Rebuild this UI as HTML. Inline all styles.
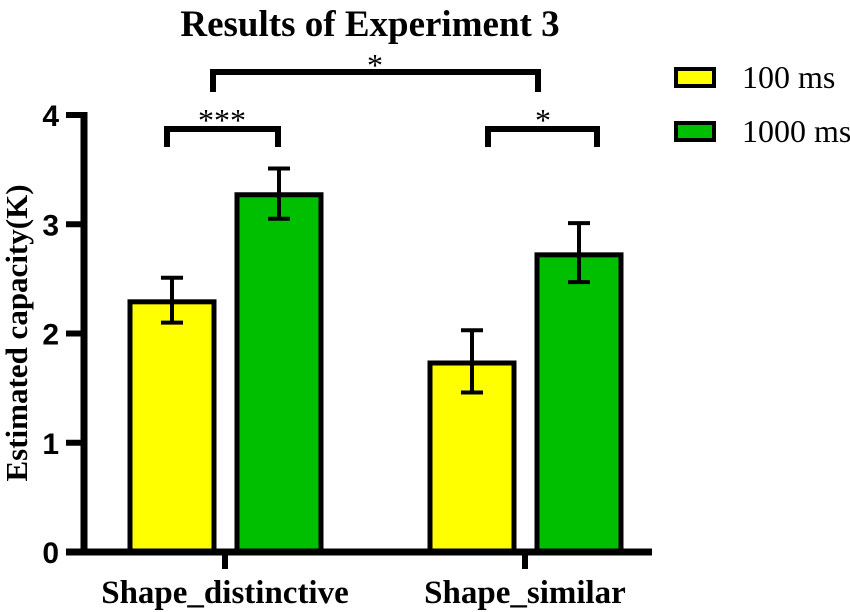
<!DOCTYPE html>
<html><head><meta charset="utf-8"><style>
html,body{margin:0;padding:0;background:#fff;}
svg{display:block;}
</style></head><body>
<svg id="chart" width="850" height="612" xmlns="http://www.w3.org/2000/svg">
<text x="370" y="36" text-anchor="middle" font-family="Liberation Serif, serif" font-weight="bold" font-size="37">Results of Experiment 3</text>
<text transform="translate(27,333) rotate(-90)" text-anchor="middle" font-family="Liberation Serif, serif" font-weight="bold" font-size="31">Estimated capacity(K)</text>
<g id="bars"></g>
<g id="axes"></g>
<g>
 <rect x="676" y="69" width="38" height="17" fill="#ffff00" stroke="#000" stroke-width="4"/>
 <text x="742" y="88" font-family="Liberation Serif, serif" font-size="32">100 ms</text>
 <rect x="676" y="123" width="38" height="17" fill="#00bf00" stroke="#000" stroke-width="4"/>
 <text x="742" y="142" font-family="Liberation Serif, serif" font-size="32">1000 ms</text>
</g>
<g fill="none" stroke="#000" stroke-width="6">
 <path d="M213,92 V72 H538 V92"/>
 <path d="M167,147 V129 H278 V147"/>
 <path d="M488,147 V129 H597 V147"/>
</g>
<g font-family="Liberation Serif, serif" font-size="32" text-anchor="middle">
 <text x="375" y="76">*</text>
 <text x="222" y="131">***</text>
 <text x="543" y="131">*</text>
</g>
</svg>
<script>
const categories = ["Shape_distinctive", "Shape_similar"];
const series100 = [2.29, 1.73];
const series1000 = [3.27, 2.72];
const err100Low = [2.10, 1.46];
const err100High = [2.51, 2.03];
const err1000Low = [3.05, 2.47];
const err1000High = [3.51, 3.01];
const yTicks = [0, 1, 2, 3, 4];

const NS = "http://www.w3.org/2000/svg";
const y0 = 552, yUnit = 109.25;
function yScale(v){ return y0 - v*yUnit; }
const groupCenters = [225, 525];
function xBar(i, s){ return groupCenters[i] + (s===0 ? -95 : 12); }
const barW = 84;
function mk(tag, attrs, parent){
  const e = document.createElementNS(NS, tag);
  for (const k in attrs) e.setAttribute(k, attrs[k]);
  parent.appendChild(e); return e;
}
const bars = document.getElementById('bars');
const axes = document.getElementById('axes');
const seriesList = [series100, series1000];
const lows = [err100Low, err1000Low], highs = [err100High, err1000High];
const colors = ["#ffff00", "#00bf00"];
const names = ["100ms", "1000ms"];
categories.forEach((c, i) => {
  [0,1].forEach(s => {
    const v = seriesList[s][i];
    const x = xBar(i, s);
    const r = mk('rect', {x: x, y: yScale(v), width: barW, height: y0 - yScale(v), fill: colors[s], stroke: '#000', 'stroke-width': 5}, bars);
    
    
    const cx = x + barW/2;
    const e = mk('path', {d: `M${cx},${yScale(highs[s][i])} V${yScale(lows[s][i])} M${cx-11},${yScale(highs[s][i])} H${cx+11} M${cx-11},${yScale(lows[s][i])} H${cx+11}`, stroke: '#000', 'stroke-width': 4, fill: 'none'}, bars);
    
    
  });
  const t = mk('path', {d: `M${groupCenters[i]},${y0} V569`, stroke: '#000', 'stroke-width': 6}, axes);
  
  
  const lb = mk('text', {x: groupCenters[i], y: 603, 'text-anchor': 'middle', 'font-family': 'Liberation Serif, serif', 'font-weight': 'bold', 'font-size': 33}, axes);
  lb.textContent = c;
  
  
});
const ya = mk('path', {d: `M84,${yScale(4)-3} V${y0+3}`, stroke: '#000', 'stroke-width': 7}, axes);


const xa = mk('path', {d: `M66,${y0} H652`, stroke: '#000', 'stroke-width': 7}, axes);


yTicks.forEach(v => {
  const tk = mk('path', {d: `M66,${yScale(v)} H84`, stroke: '#000', 'stroke-width': 6}, axes);
  
  
  const tl = mk('text', {x: 59, y: yScale(v)+11, 'text-anchor': 'end', 'font-family': 'Liberation Sans, sans-serif', 'font-weight': 'bold', 'font-size': 30}, axes);
  tl.textContent = v;
  
  
});
</script>
</body></html>
